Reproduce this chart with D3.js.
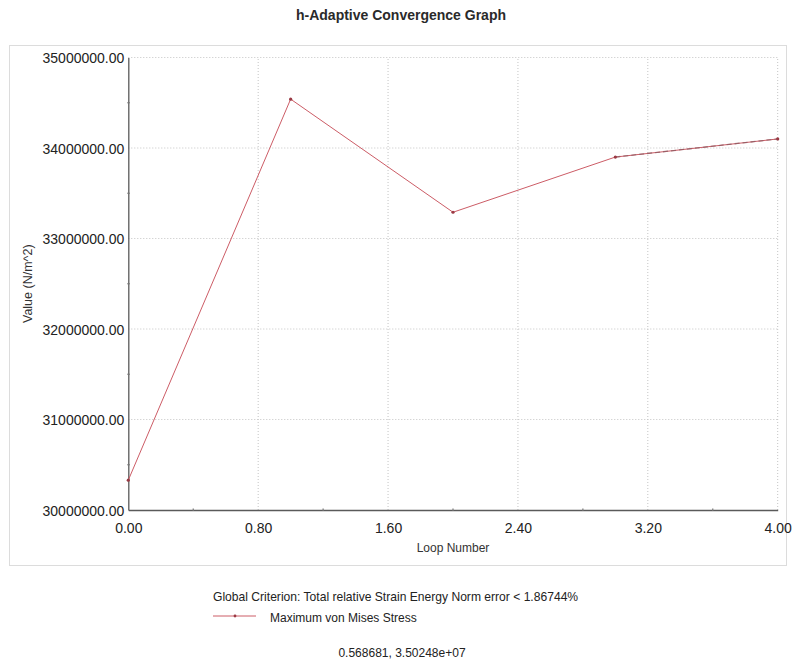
<!DOCTYPE html>
<html>
<head>
<meta charset="utf-8">
<script src="https://cdn.jsdelivr.net/npm/d3@7"></script>
<style>
  html, body { margin: 0; padding: 0; background: #fff; }
  svg { display: block; font-family: "Liberation Sans", Arial, sans-serif; }
</style>
</head>
<body>
<svg id="chart" width="792" height="659"></svg>
<script>
// Convergence data: loop number vs. maximum von Mises stress (N/m^2)
const loops = [0, 1, 2, 3, 4];
const stress = [30330000, 34540000, 33290000, 33900000, 34100000];

const xTicks = [0, 0.8, 1.6, 2.4, 3.2, 4.0];
const xMinorTicks = [0.4, 1.2, 2.0, 2.8, 3.6];
const yTicks = [30000000, 31000000, 32000000, 33000000, 34000000, 35000000];
const yMinorTicks = [30500000, 31500000, 32500000, 33500000, 34500000];

const titleText = "h-Adaptive Convergence Graph";
const xTitle = "Loop Number";
const yTitle = "Value (N/m^2)";
const criterionText = "Global Criterion: Total relative Strain Energy Norm error < 1.86744%";
const seriesName = "Maximum von Mises Stress";
const cursorText = "0.568681, 3.50248e+07";

const svg = d3.select("#chart");
const lineColor = "#cc5c66";

// outer panel frame
svg.append("rect")
  .attr("x", 9.5).attr("y", 45.5)
  .attr("width", 777).attr("height", 520)
  .attr("fill", "none").attr("stroke", "#dcdcdc").attr("stroke-width", 1);

const x = d3.scaleLinear().domain([0, 4]).range([128.3, 777.7]);
const y = d3.scaleLinear().domain([30000000, 35000000]).range([510, 57.5]);

// dotted grid
const grid = svg.append("g");
grid.selectAll("line.v").data(xTicks.slice(1)).join("line")
  .attr("x1", d => x(d)).attr("x2", d => x(d))
  .attr("y1", y.range()[0]).attr("y2", y.range()[1])
  .attr("stroke", "#c4c4c4").attr("stroke-width", 1).attr("stroke-dasharray", "1,2");
grid.selectAll("line.h").data(yTicks.slice(1)).join("line")
  .attr("y1", d => y(d)).attr("y2", d => y(d))
  .attr("x1", x.range()[0]).attr("x2", x.range()[1])
  .attr("stroke", "#c4c4c4").attr("stroke-width", 1).attr("stroke-dasharray", "1,2");

// axes
const fmt = d => d.toFixed(2);
const xAxis = svg.append("g")
  .attr("transform", `translate(0,${y.range()[0]})`)
  .call(d3.axisBottom(x).tickValues(xTicks).tickFormat(fmt).tickSize(0).tickPadding(13));
const yAxis = svg.append("g")
  .attr("transform", `translate(${x.range()[0]},0)`)
  .call(d3.axisLeft(y).tickValues(yTicks).tickFormat(fmt).tickSize(0).tickPadding(4));
[xAxis, yAxis].forEach(a => {
  a.select(".domain").attr("stroke", "#5a5a5a").attr("stroke-width", 1.3);
  a.selectAll("text").attr("fill", "#222").attr("font-size", 14)
    .attr("font-family", "Liberation Sans, Arial, sans-serif");
});
yAxis.selectAll("text").attr("dy", "0.36em");

// minor tick marks
svg.append("g").selectAll("line").data(xMinorTicks).join("line")
  .attr("x1", d => x(d)).attr("x2", d => x(d))
  .attr("y1", y.range()[0] - 1.5).attr("y2", y.range()[0] + 1)
  .attr("stroke", "#777").attr("stroke-width", 1.2);
svg.append("g").selectAll("line").data(yMinorTicks).join("line")
  .attr("y1", d => y(d)).attr("y2", d => y(d))
  .attr("x1", x.range()[0] - 1).attr("x2", x.range()[0] + 1.5)
  .attr("stroke", "#777").attr("stroke-width", 1.2);

// series line
const pts = loops.map((l, i) => [l, stress[i]]);
const line = d3.line().x(d => x(d[0])).y(d => y(d[1]));
svg.append("path").datum(pts)
  .attr("d", line).attr("fill", "none")
  .attr("stroke", lineColor).attr("stroke-width", 1);
// last segment drawn again as a darker dashed trace
svg.append("path").datum(pts.slice(-2))
  .attr("d", line).attr("fill", "none")
  .attr("stroke", "#8c5a60").attr("stroke-width", 1.3).attr("stroke-dasharray", "5,3")
  .attr("opacity", 0.75);
svg.append("g").selectAll("circle").data(pts).join("circle")
  .attr("cx", d => x(d[0])).attr("cy", d => y(d[1])).attr("r", 1.6)
  .attr("fill", "#9a3a44");

// titles
svg.append("text").attr("x", 401).attr("y", 20).attr("text-anchor", "middle")
  .attr("font-size", 14).attr("font-weight", "bold").attr("fill", "#2a2a2a").text(titleText);
svg.append("text").attr("x", x(2)).attr("y", 552).attr("text-anchor", "middle")
  .attr("font-size", 12).attr("fill", "#333").text(xTitle);
svg.append("text")
  .attr("transform", `translate(32,${(y.range()[0] + y.range()[1]) / 2}) rotate(-90)`)
  .attr("text-anchor", "middle").attr("font-size", 12.5).attr("fill", "#333").text(yTitle);

// legend
svg.append("text").attr("x", 213).attr("y", 601)
  .attr("font-size", 12.1).attr("fill", "#222").text(criterionText);
svg.append("line").attr("x1", 213).attr("x2", 256).attr("y1", 616).attr("y2", 616)
  .attr("stroke", lineColor).attr("stroke-width", 1);
svg.append("circle").attr("cx", 235).attr("cy", 616).attr("r", 1.4).attr("fill", "#9a3a44");
svg.append("text").attr("x", 270).attr("y", 622)
  .attr("font-size", 12).attr("fill", "#222").text(seriesName);
svg.append("text").attr("x", 402).attr("y", 657).attr("text-anchor", "middle")
  .attr("font-size", 12).attr("fill", "#222").text(cursorText);
</script>
</body>
</html>
